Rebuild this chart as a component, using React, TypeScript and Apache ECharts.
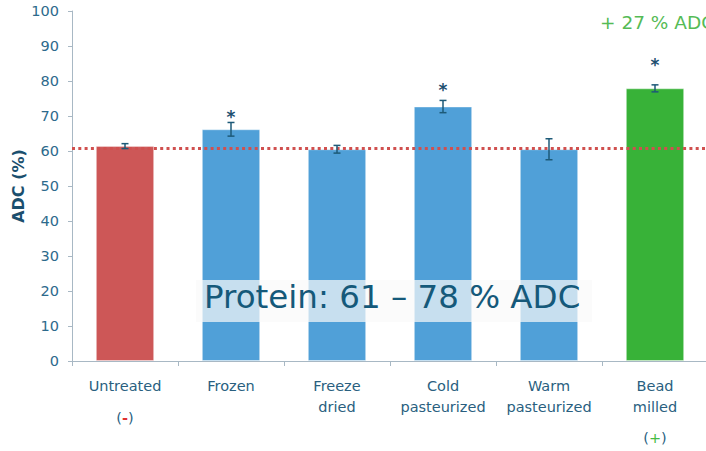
import React, { useEffect, useRef } from "react";
import * as echarts from "echarts";

const categories = ["Untreated", "Frozen", "Freeze\ndried", "Cold\npasteurized", "Warm\npasteurized", "Bead\nmilled"];
const adcValues = [61.4, 66.2, 60.5, 72.7, 60.5, 77.9];
const adcErrors = [0.7, 1.95, 1.1, 1.75, 3.0, 1.0];
const barColors = ["#cd5757", "#50a0d8", "#50a0d8", "#50a0d8", "#50a0d8", "#38b238"];
const asteriskY = [null, 70.6, null, 78.4, null, 85.4];
const referenceLevel = 60.8;
const yTicks = { min: 0, max: 100, interval: 10 };

export default function App() {
  const ref = useRef<HTMLDivElement>(null);
  useEffect(() => {
    document.body.style.margin = "0";
    const chart = echarts.init(ref.current!, null, { renderer: "svg" });
    const font = "DejaVu Sans";
    const labelColor = "#2a5f7f";
    chart.setOption({
      animation: false,
      textStyle: { fontFamily: font },
      grid: { left: 72, top: 11, width: 636, height: 350, containLabel: false, outerBoundsMode: "none" },
      xAxis: {
        type: "category",
        data: categories,
        axisLine: { lineStyle: { color: "#a8b8c4", width: 1 } },
        axisTick: { show: true, length: 5, lineStyle: { color: "#a8b8c4" } },
        axisLabel: { interval: 0, color: labelColor, fontSize: 14.5, lineHeight: 21, margin: 14, fontFamily: font },
      },
      yAxis: {
        type: "value",
        min: yTicks.min,
        max: yTicks.max,
        interval: yTicks.interval,
        name: "ADC (%)",
        nameLocation: "middle",
        nameGap: 46,
        nameMoveOverlap: false,
        nameTextStyle: { color: "#1b4f6e", fontWeight: "bold", fontSize: 16, fontFamily: font },
        splitLine: { show: false },
        axisLine: { show: true, lineStyle: { color: "#a8b8c4", width: 1 } },
        axisTick: { show: true, length: 4, lineStyle: { color: "#a8b8c4" } },
        axisLabel: { color: "#2d6a8c", fontSize: 14.5, margin: 13, fontFamily: font },
      },
      series: [
        {
          type: "bar",
          barWidth: "55%",
          data: adcValues.map((v, i) => ({ value: v, itemStyle: { color: barColors[i] } })),
          itemStyle: { borderColor: "rgba(255,255,255,0.35)", borderWidth: 1 },
          markLine: {
            silent: true,
            symbol: ["none", "none"],
            label: { show: false },
            lineStyle: { color: "#d0504f", type: [3, 3.3], width: 3 },
            data: [{ yAxis: referenceLevel }],
          },
          z: 2,
        },
        {
          type: "custom",
          z: 5,
          data: adcValues.map((v, i) => [i, v - adcErrors[i], v + adcErrors[i]]),
          renderItem: (params: any, api: any) => {
            const lo = api.coord([api.value(0), api.value(1)]);
            const hi = api.coord([api.value(0), api.value(2)]);
            const st = { stroke: "#1d5a78", lineWidth: 1.5 };
            return {
              type: "group",
              children: [
                { type: "line", shape: { x1: lo[0], y1: lo[1], x2: hi[0], y2: hi[1] }, style: st },
                { type: "line", shape: { x1: lo[0] - 3.5, y1: lo[1], x2: lo[0] + 3.5, y2: lo[1] }, style: st },
                { type: "line", shape: { x1: hi[0] - 3.5, y1: hi[1], x2: hi[0] + 3.5, y2: hi[1] }, style: st },
              ],
            };
          },
        },
        {
          type: "custom",
          z: 5,
          data: asteriskY.map((v, i) => [i, v == null ? "-" : v]),
          renderItem: (params: any, api: any) => {
            const v = api.value(1);
            if (v == null || isNaN(v)) return null;
            const p = api.coord([api.value(0), v]);
            return {
              type: "text",
              x: p[0],
              y: p[1] + 3,
              style: {
                text: "*",
                fill: "#1d4f70",
                font: "bold 17px DejaVu Sans",
                textAlign: "center",
                textVerticalAlign: "middle",
              },
            };
          },
        },
      ],
      graphic: [
        {
          type: "rect",
          z: 100,
          shape: { x: 196, y: 280, width: 396, height: 42 },
          style: { fill: "rgba(250,250,250,0.7)" },
        },
        {
          type: "text",
          z: 101,
          x: 204,
          y: 297,
          style: {
            text: "Protein: 61 – 78 % ADC",
            fill: "#15597a",
            font: "32.5px DejaVu Sans",
            textVerticalAlign: "middle",
          },
        },
        {
          type: "text",
          z: 101,
          x: 600,
          y: 22,
          style: {
            text: "+ 27 % ADC",
            fill: "#55bb55",
            font: "18.5px DejaVu Sans",
            textVerticalAlign: "middle",
          },
        },
        {
          type: "text",
          z: 101,
          x: 125,
          y: 418,
          style: {
            text: "{p|(}{m|-}{p|)}",
            textAlign: "center",
            textVerticalAlign: "middle",
            rich: {
              p: { fill: labelColor, font: "14.5px DejaVu Sans" },
              m: { fill: "#e03030", font: "bold 14.5px DejaVu Sans" },
            },
          },
        },
        {
          type: "text",
          z: 101,
          x: 655,
          y: 438,
          style: {
            text: "{p|(}{m|+}{p|)}",
            textAlign: "center",
            textVerticalAlign: "middle",
            rich: {
              p: { fill: labelColor, font: "14.5px DejaVu Sans" },
              m: { fill: "#44bb44", font: "14.5px DejaVu Sans" },
            },
          },
        },
      ],
    });
    return () => chart.dispose();
  }, []);
  return <div ref={ref} style={{ width: 706, height: 451 }} />;
}
